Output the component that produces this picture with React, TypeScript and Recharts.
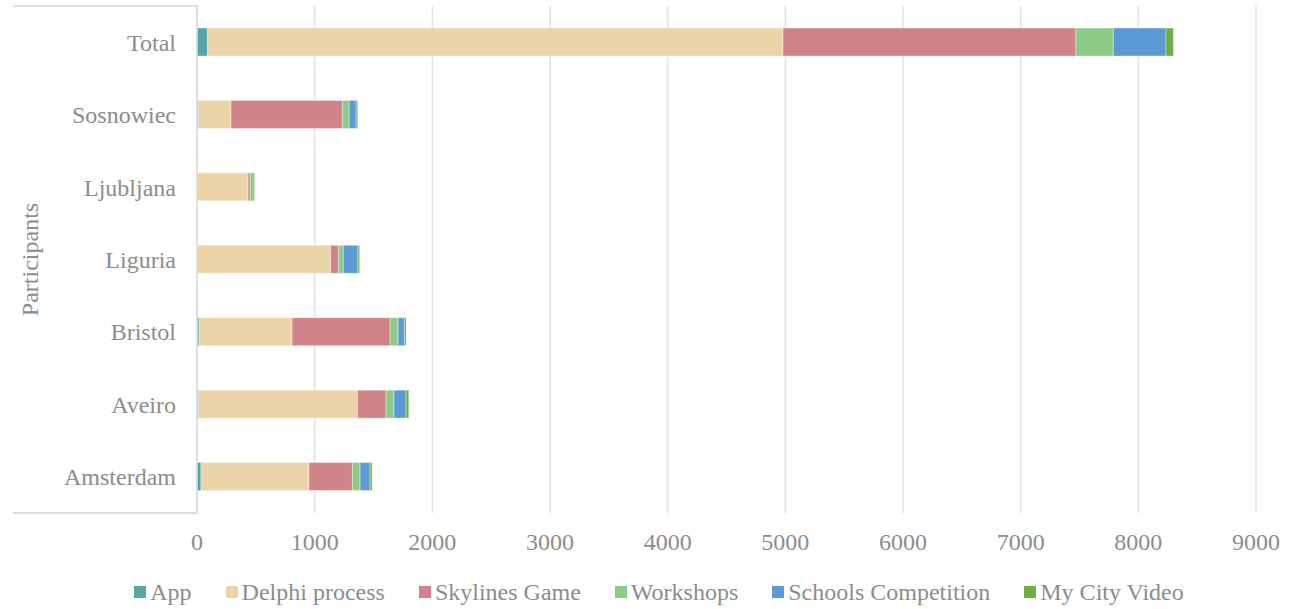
import { BarChart, Bar, XAxis, YAxis, CartesianGrid, Legend } from "recharts";

const cities = ["Total", "Sosnowiec", "Ljubljana", "Liguria", "Bristol", "Aveiro", "Amsterdam"];

const app = [90, 14, 0, 4, 17, 14, 34];
const delphi = [4890, 275, 434, 1131, 791, 1349, 918];
const skylines = [2490, 947, 19, 68, 833, 244, 369];
const workshops = [318, 57, 37, 40, 68, 66, 65];
const schools = [447, 59, 0, 124, 54, 104, 85];
const myCity = [63, 14, 0, 15, 14, 23, 17];

const xTicks = [0, 1000, 2000, 3000, 4000, 5000, 6000, 7000, 8000, 9000];

const series = [
  { key: "app", name: "App", color: "#55A4A7", values: app },
  { key: "delphi", name: "Delphi process", color: "#EDD3A8", values: delphi },
  { key: "skylines", name: "Skylines Game", color: "#D1838A", values: skylines },
  { key: "workshops", name: "Workshops", color: "#8BCB86", values: workshops },
  { key: "schools", name: "Schools Competition", color: "#5B9BD5", values: schools },
  { key: "myCity", name: "My City Video", color: "#70AD47", values: myCity },
];

const data = cities.map((city, i) => {
  const row: Record<string, string | number> = { city };
  series.forEach((s) => {
    row[s.key] = s.values[i];
  });
  return row;
});

const textColor = "#8c8c8c";
const gridColor = "#e2e2e2";
const font = "'Liberation Serif', 'Times New Roman', serif";

function LegendContent() {
  return (
    <div
      style={{
        width: 1309,
        height: 46,
        paddingTop: 12,
        paddingLeft: 9,
        boxSizing: "border-box",
        display: "flex",
        justifyContent: "center",
        alignItems: "center",
        fontFamily: font,
        fontSize: 24,
        color: textColor,
      }}
    >
      {series.map((s, i) => (
        <div
          key={s.key}
          style={{ display: "flex", alignItems: "center", marginRight: i === series.length - 1 ? 0 : 34 }}
        >
          <span style={{ width: 12, height: 12, background: s.color, marginRight: 4, display: "inline-block" }} />
          <span>{s.name}</span>
        </div>
      ))}
    </div>
  );
}

function YLabel(props: any) {
  const vb = props.viewBox || {};
  const cy = (vb.y ?? 6) + (vb.height ?? 507) / 2;
  return (
    <text
      x={38}
      y={cy}
      transform={`rotate(-90, 38, ${cy})`}
      textAnchor="middle"
      fill={textColor}
      fontSize={24}
      fontFamily={font}
    >
      Participants
    </text>
  );
}

export default function App() {
  return (
    <div style={{ position: "absolute", left: 0, top: 0, width: 1309, height: 609, background: "#fff" }}>
      {/* bracket lines of the category axis */}
      <div style={{ position: "absolute", left: 13, top: 5, width: 185, height: 1.5, background: "#dcdcdc" }} />
      <div style={{ position: "absolute", left: 13, top: 512, width: 185, height: 1.5, background: "#dcdcdc" }} />
      <BarChart
        layout="vertical"
        width={1309}
        height={609}
        data={data}
        margin={{ top: 6, right: 53, left: 0, bottom: 0 }}
        barSize={28}
      >
        <CartesianGrid horizontal={false} stroke={gridColor} strokeWidth={1.5} />
        <XAxis
          type="number"
          domain={[0, 9000]}
          ticks={xTicks}
          axisLine={false}
          tickLine={false}
          tickSize={0}
          tickMargin={20}
          height={50}
          tick={{ fill: textColor, fontSize: 24, fontFamily: font }}
        />
        <YAxis
          type="category"
          dataKey="city"
          width={197}
          axisLine={{ stroke: "#dcdcdc", strokeWidth: 1.5 }}
          tickLine={false}
          tickSize={0}
          tickMargin={21}
          tick={{ fill: textColor, fontSize: 24, fontFamily: font }}
          label={{ content: YLabel }}
        />
        <Legend
          verticalAlign="bottom"
          content={LegendContent}
          wrapperStyle={{ left: 0, width: 1309 }}
        />
        {series.map((s) => (
          <Bar
            key={s.key}
            dataKey={s.key}
            name={s.name}
            stackId="a"
            fill={s.color}
            stroke="rgba(255,255,255,0.5)"
            strokeWidth={0.75}
            isAnimationActive={false}
          />
        ))}
      </BarChart>
    </div>
  );
}
